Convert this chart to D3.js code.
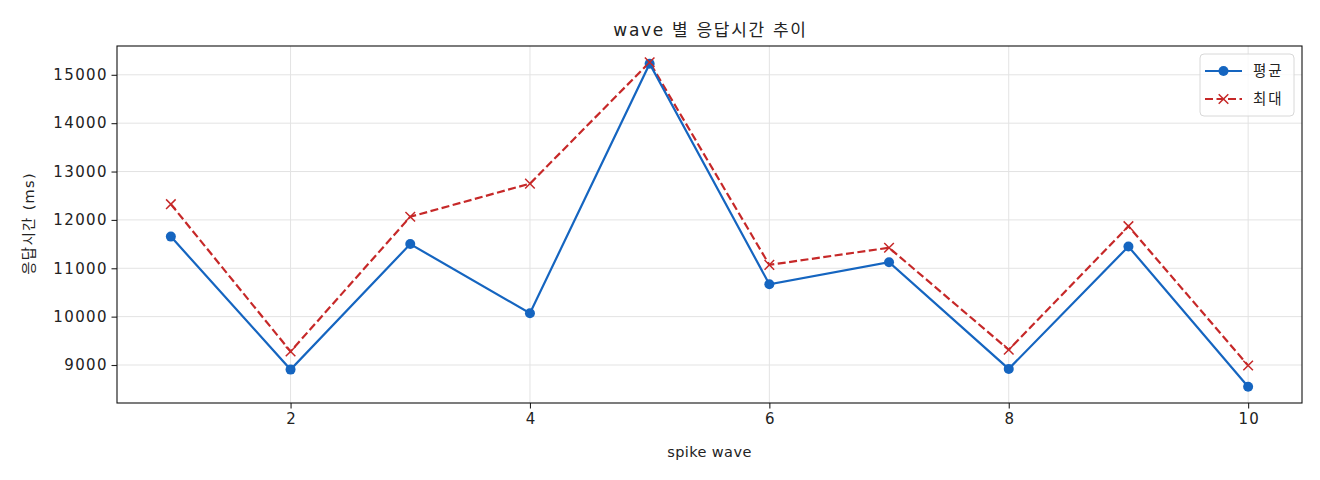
<!DOCTYPE html>
<html>
<head>
<meta charset="utf-8">
<script src="https://cdn.jsdelivr.net/npm/d3@7"></script>
<style>
	body { margin: 0; background: #fff; }
	text { font-family: 'DejaVu Sans', 'Noto Sans CJK KR', sans-serif; fill: #222; }
</style>
</head>
<body>
<svg id="chart" width="1320" height="480"></svg>
<script>
'use strict'

const waves = [1, 2, 3, 4, 5, 6, 7, 8, 9, 10]
const avgMs = [11655, 8905, 11500, 10070, 15230, 10670, 11125, 8920, 11450, 8550]
const maxMs = [12325, 9280, 12065, 12750, 15260, 11070, 11425, 9315, 11870, 8990]
const xTicks = [2, 4, 6, 8, 10]
const yTicks = [9000, 10000, 11000, 12000, 13000, 14000, 15000]

const kDefaults = {
	margin: {top: 46, right: 18, bottom: 77, left: 117},
	width: 1320,
	height: 480,
	blue: '#1565C0',
	red: '#C62828',
	lineWidth: 2.2,
	dotRadius: 5,
	crossHalf: 4.8
}

const svg = d3.select('#chart')
const m = kDefaults.margin
const innerW = kDefaults.width - m.left - m.right
const innerH = kDefaults.height - m.top - m.bottom

// matplotlib style 5% margins
const xPad = (d3.max(waves) - d3.min(waves)) * 0.05
const allVals = avgMs.concat(maxMs)
const yMin = d3.min(allVals)
const yMax = d3.max(allVals)
const yPad = (yMax - yMin) * 0.05

const x = d3.scaleLinear()
	.domain([d3.min(waves) - xPad, d3.max(waves) + xPad])
	.range([0, innerW])

const y = d3.scaleLinear()
	.domain([yMin - yPad, yMax + yPad])
	.range([innerH, 0])

const g = svg.append('g')
	.attr('transform', `translate(${m.left},${m.top})`)

// grid
g.append('g')
	.selectAll('line')
	.data(xTicks)
	.enter()
	.append('line')
	.attr('x1', (d) => x(d))
	.attr('x2', (d) => x(d))
	.attr('y1', 0)
	.attr('y2', innerH)
	.attr('stroke', '#e3e3e3')
	.attr('stroke-width', 1)

g.append('g')
	.selectAll('line')
	.data(yTicks)
	.enter()
	.append('line')
	.attr('x1', 0)
	.attr('x2', innerW)
	.attr('y1', (d) => y(d))
	.attr('y2', (d) => y(d))
	.attr('stroke', '#e3e3e3')
	.attr('stroke-width', 1)

// axes
const xAxis = g.append('g')
	.attr('transform', `translate(0,${innerH})`)
	.call(d3.axisBottom(x).tickValues(xTicks).tickSize(5.5).tickPadding(5).tickFormat(d3.format('d')))

const yAxis = g.append('g')
	.call(d3.axisLeft(y).tickValues(yTicks).tickSize(5.5).tickPadding(3.5).tickFormat(d3.format('d')))

;[xAxis, yAxis].forEach((ax) => {
	ax.select('.domain').remove()
	ax.selectAll('.tick line').attr('stroke', '#222').attr('stroke-width', 1.1)
	ax.selectAll('.tick text')
		.style('font-size', '15px')
		.style('letter-spacing', '1.4px')
		.attr('fill', '#222')
})
xAxis.selectAll('.tick text').attr('dx', '0.7px')

// frame
g.append('rect')
	.attr('x', 0)
	.attr('y', 0)
	.attr('width', innerW)
	.attr('height', innerH)
	.attr('fill', 'none')
	.attr('stroke', '#111')
	.attr('stroke-width', 1.1)

const lineOf = (vals) => d3.line()
	.x((d, i) => x(waves[i]))
	.y((d) => y(d))(vals)

// max series (dashed, x markers)
g.append('path')
	.attr('d', lineOf(maxMs))
	.attr('fill', 'none')
	.attr('stroke', kDefaults.red)
	.attr('stroke-width', kDefaults.lineWidth)
	.attr('stroke-dasharray', '8,3.5')

const crossPath = (cx, cy, r) => `M${cx - r},${cy - r}L${cx + r},${cy + r}M${cx - r},${cy + r}L${cx + r},${cy - r}`

// avg series (solid, dots)
g.append('path')
	.attr('d', lineOf(avgMs))
	.attr('fill', 'none')
	.attr('stroke', kDefaults.blue)
	.attr('stroke-width', kDefaults.lineWidth)

g.append('g')
	.selectAll('circle')
	.data(avgMs)
	.enter()
	.append('circle')
	.attr('cx', (d, i) => x(waves[i]))
	.attr('cy', (d) => y(d))
	.attr('r', kDefaults.dotRadius)
	.attr('fill', kDefaults.blue)

g.append('g')
	.selectAll('path')
	.data(maxMs)
	.enter()
	.append('path')
	.attr('d', (d, i) => crossPath(x(waves[i]), y(d), kDefaults.crossHalf))
	.attr('stroke', kDefaults.red)
	.attr('stroke-width', 1.5)
	.attr('fill', 'none')

// titles
svg.append('text')
	.attr('x', m.left + innerW / 2 + 1)
	.attr('y', 36)
	.attr('text-anchor', 'middle')
	.style('font-size', '17px')
	.style('letter-spacing', '1.7px')
	.text('wave 별 응답시간 추이')

svg.append('text')
	.attr('x', m.left + innerW / 2)
	.attr('y', 457)
	.attr('text-anchor', 'middle')
	.style('font-size', '14.5px')
	.style('letter-spacing', '0.4px')
	.text('spike wave')

svg.append('text')
	.attr('transform', `translate(34,${m.top + innerH / 2 - 1}) rotate(-90)`)
	.attr('text-anchor', 'middle')
	.style('font-size', '14.5px')
	.style('letter-spacing', '1.3px')
	.text('응답시간 (ms)')

// legend
const legend = g.append('g')
	.attr('transform', `translate(${innerW - 102},8)`)

legend.append('rect')
	.attr('width', 94)
	.attr('height', 62)
	.attr('rx', 4)
	.attr('fill', 'rgba(255,255,255,0.8)')
	.attr('stroke', '#d8d8d8')
	.attr('stroke-width', 1)

const legendItems = [
	{label: '평균', color: kDefaults.blue, dash: null, marker: 'circle'},
	{label: '최대', color: kDefaults.red, dash: '8,3.5', marker: 'cross'}
]

legendItems.forEach((item, i) => {
	const ly = 17 + i * 28
	const row = legend.append('g')
	row.append('line')
		.attr('x1', 5)
		.attr('x2', 42)
		.attr('y1', ly)
		.attr('y2', ly)
		.attr('stroke', item.color)
		.attr('stroke-width', kDefaults.lineWidth)
		.attr('stroke-dasharray', item.dash)
	if (item.marker === 'circle') {
		row.append('circle')
			.attr('cx', 23.5)
			.attr('cy', ly)
			.attr('r', kDefaults.dotRadius)
			.attr('fill', item.color)
	} else {
		row.append('path')
			.attr('d', crossPath(23.5, ly, kDefaults.crossHalf))
			.attr('stroke', item.color)
			.attr('stroke-width', 1.5)
	}
	row.append('text')
		.attr('x', 53)
		.attr('y', ly + 5)
		.style('font-size', '14.5px')
		.style('letter-spacing', '2px')
		.text(item.label)
})
</script>
</body>
</html>
